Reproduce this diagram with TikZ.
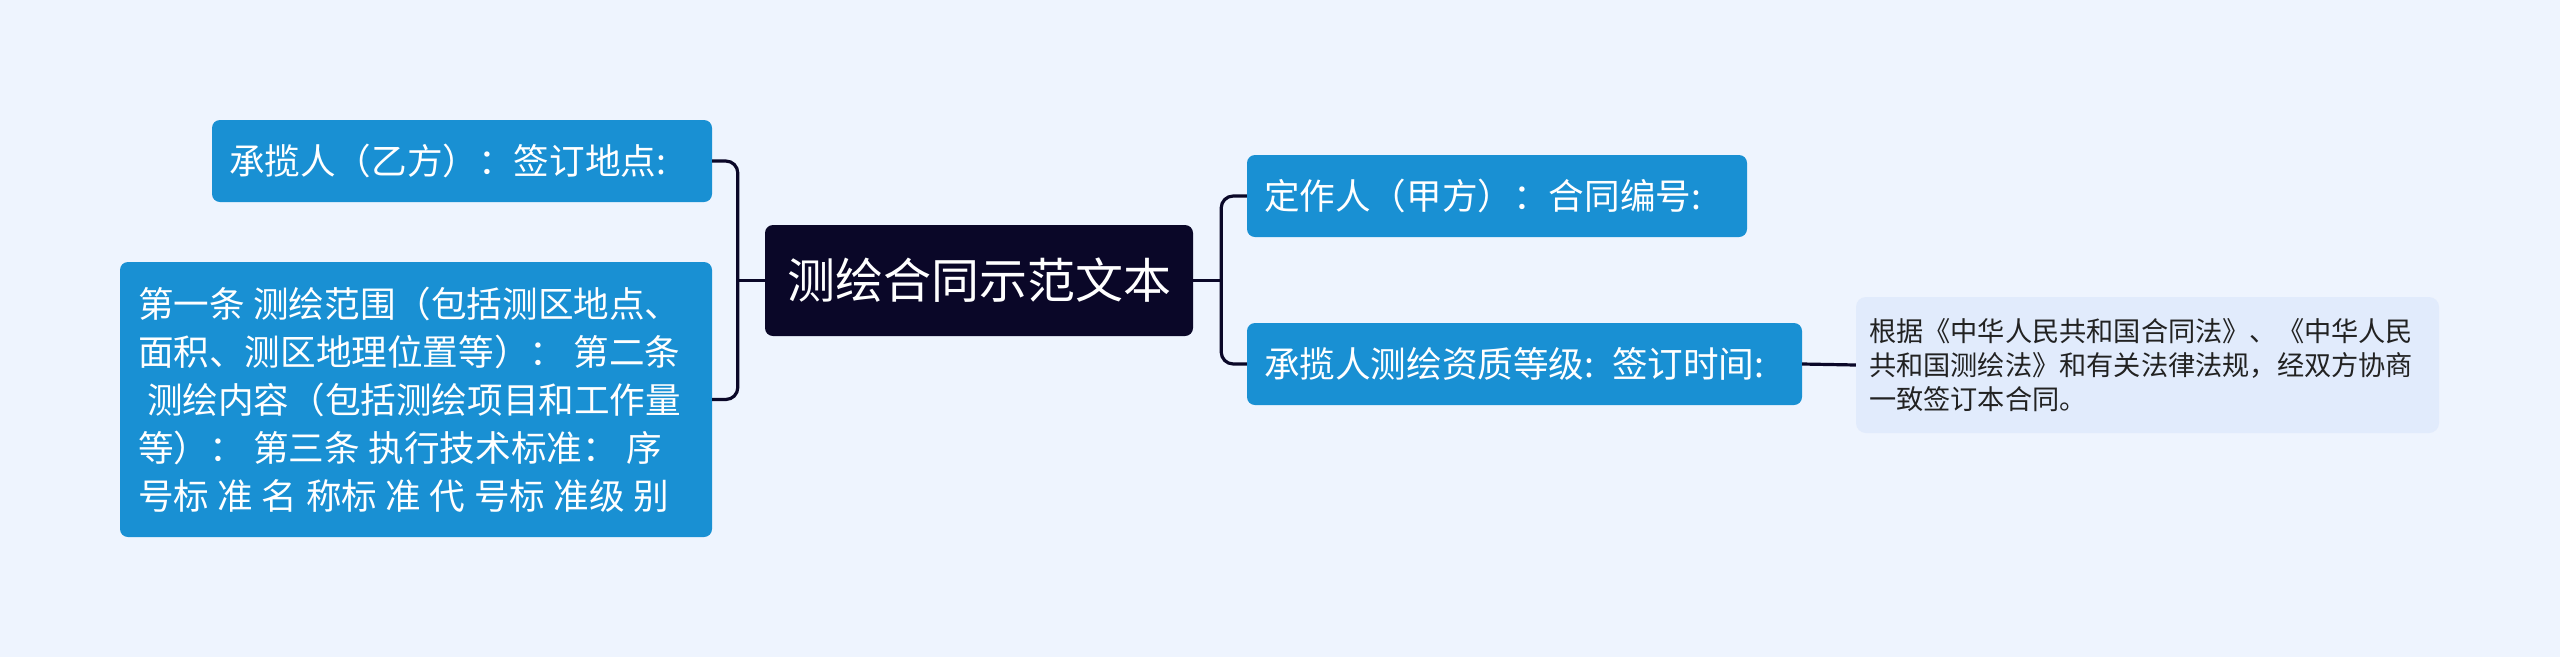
\documentclass[tikz,border=0pt]{standalone}
\usepackage{fontspec}
\usepackage{tikz}
\newfontfamily\cjk{Noto Sans CJK SC}
\newcommand{\tightspaces}{\spaceskip=0.24em plus 0.05em\relax}
\definecolor{pagebg}{RGB}{238,244,254}
\definecolor{rootfill}{RGB}{10,7,40}
\definecolor{topicblue}{RGB}{25,144,211}
\definecolor{notefill}{RGB}{225,235,252}
\definecolor{notetext}{RGB}{34,34,34}
\tikzset{
  rootbox/.style={fill=rootfill, text=white, rounded corners=8pt, inner sep=0pt,
    font=\cjk\fontsize{48}{56}\selectfont, minimum width=428pt, minimum height=111pt},
  topic/.style={fill=topicblue, text=white, rounded corners=8pt, align=left,
    font=\cjk\fontsize{35.6}{48}\selectfont, inner xsep=17pt, inner ysep=0pt, minimum height=82pt},
  notebox/.style={fill=notefill, text=notetext, rounded corners=10pt, align=left,
    font=\cjk\fontsize{27.2}{34}\selectfont, inner xsep=13pt, inner ysep=0pt},
  link/.style={draw=rootfill, line width=3.2pt, rounded corners=12pt}
}

\begin{document}
\begin{tikzpicture}[x=1pt, y=-1pt]
  \fill[pagebg] (0,0) rectangle (2560,657);
  \useasboundingbox (0,0) rectangle (2560,657);
  % centre
  \node[rootbox] (root) at (979,280.5) {测绘合同示范文本};
  % left side
  \node[topic, text width=466pt] (place) at (462,161) {承揽人（乙方）：签订地点:};
  \node[topic, text width=556pt, inner xsep=18pt, minimum height=275pt] (scope) at (416,399.5)
    {\tightspaces 第一条 测绘范围（包括测区地点、\\
     面积、测区地理位置等）： 第二条\\
     \hspace*{9pt}测绘内容（包括测绘项目和工作量\\
     等）： 第三条 执行技术标准： 序\\
     号标 准 名 称标 准 代 号标 准级 别};
  % right side
  \node[topic, text width=466pt] (number) at (1497,196) {定作人（甲方）：合同编号:};
  \node[topic, text width=521pt] (level) at (1524.5,364) {承揽人测绘资质等级: 签订时间:};
  \node[notebox, text width=557pt, minimum height=136pt] (basis) at (2147.5,365)
    {根据《中华人民共和国合同法》、《中华人民\\
     共和国测绘法》和有关法律法规，经双方协商\\
     一致签订本合同。};
  % connectors
  \coordinate (lj) at ([xshift=-27pt]root.west);
  \coordinate (rj) at ([xshift=28pt]root.east);
  \draw[link] (root.west) -- (lj);
  \draw[link] (place.east) -| (lj) |- (scope.east);
  \draw[link] (root.east) -- (rj);
  \draw[link] (number.west) -| (rj) |- (level.west);
  \draw[link] (level.east) -- (basis.west);
\end{tikzpicture}
\end{document}
